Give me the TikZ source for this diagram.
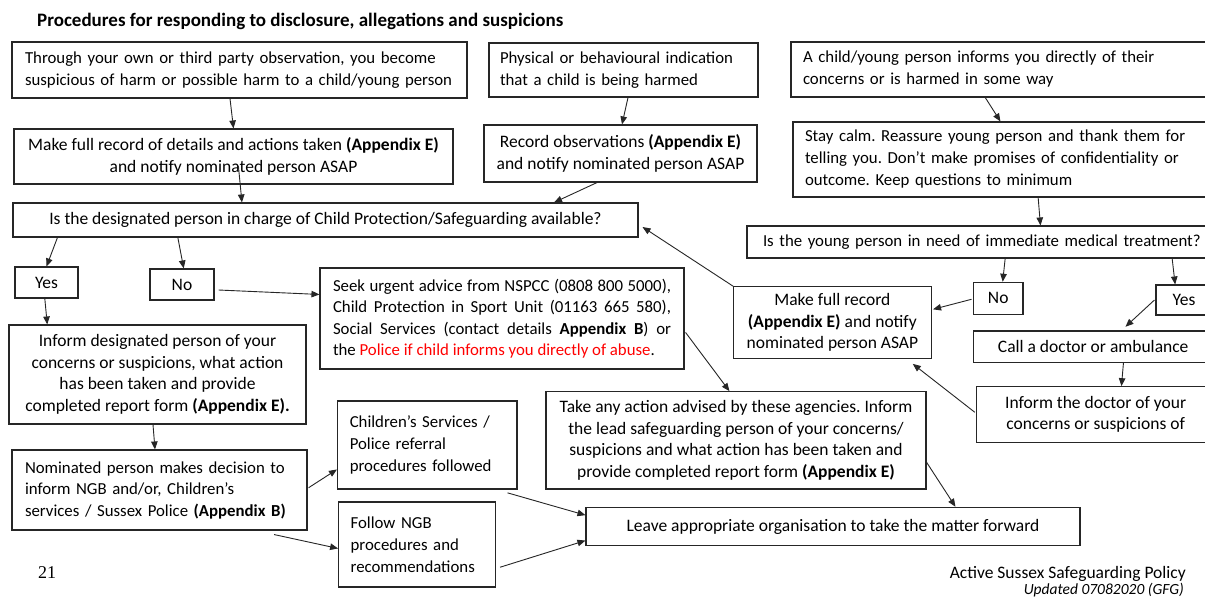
\documentclass[tikz,border=0pt]{standalone}
\usepackage{fontspec}
\setmainfont{Carlito}
\newfontfamily\serifnum{Liberation Serif}
\usetikzlibrary{arrows.meta,calc}
\frenchspacing
\tikzset{
  box/.style={draw=black!85, line width=1.1pt, inner sep=0pt, font=\fontsize{17.5}{22}\selectfont},
  lbox/.style={box, align=left, font=\fontsize{16.8}{22}\selectfont},
  cbox/.style={box, align=center},
  tight/.style={font=\fontsize{17.5}{21.5}\selectfont},
  ltight/.style={font=\fontsize{16.8}{21.5}\selectfont},
  arr/.style={draw=black!85, line width=0.9pt, -{Triangle[length=8pt,width=6.5pt]}},
  plain/.style={inner sep=0pt, font=\fontsize{17.5}{21}\selectfont},
}
\begin{document}
\begin{tikzpicture}[x=1pt,y=-1pt]
\useasboundingbox (0,0) rectangle (1205,598);
\fill[white] (0,0) rectangle (1205,598);
\clip (0,0) rectangle (1205,598);

\node[plain, anchor=west, font=\fontsize{19}{22}\selectfont\bfseries] (title) at (37,21) {Procedures for responding to disclosure, allegations and suspicions};

% row 1
\node[lbox, minimum width=455pt, minimum height=56pt, text width=429pt] (A1) at (239.5,70)
  {\mbox{Through your own or third party observation, you become}\\\mbox{suspicious of harm or possible harm to a child/young person}};
\node[lbox, minimum width=269pt, minimum height=54pt, text width=247pt] (A2) at (623.5,70)
  {\mbox{Physical or behavioural indication}\\\mbox{that a child is being harmed}};
\node[lbox, minimum width=500pt, minimum height=55pt, text width=476pt] (A3) at (1041,69.5)
  {\mbox{A child/young person informs you directly of their}\\\mbox{concerns or is harmed in some way}};

% row 2
\node[cbox, minimum width=439pt, minimum height=55pt] (B1) at (233.5,156.5)
  {Make full record of details and actions taken \textbf{(Appendix E)}\\and notify nominated person ASAP};
\node[cbox, minimum width=273pt, minimum height=57pt] (B2) at (620.5,153.5)
  {Record observations \textbf{(Appendix E)}\\and notify nominated person ASAP};
\node[lbox, minimum width=500pt, minimum height=75pt, text width=476pt] (B3) at (1043,159.5)
  {\mbox{Stay calm. Reassure young person and thank them for}\\\mbox{telling you. Don’t make promises of confidentiality or}\\\mbox{outcome. Keep questions to minimum}};

% questions
\node[cbox, minimum width=625pt, minimum height=34pt] (C1) at (325.5,220)
  {Is the designated person in charge of Child Protection/Safeguarding available?};
\node[lbox, minimum width=540pt, minimum height=32pt, text width=508pt] (C3) at (1017,242)
  {\mbox{Is the young person in need of immediate medical treatment?}};

% left branch
\node[cbox, minimum width=63pt, minimum height=31pt] (Yes1) at (46.5,282.5) {Yes};
\node[cbox, minimum width=64pt, minimum height=31pt] (No1) at (182,284.5) {No};
\node[box, ltight, align=left, minimum width=364pt, minimum height=101pt] (Seek) at (502,318.5)
  {\makebox[338pt][s]{Seek urgent advice from NSPCC (0808 800 5000),}\\
   \makebox[338pt][s]{Child Protection in Sport Unit (01163 665 580),}\\
   \makebox[338pt][s]{Social Services (contact details \textbf{Appendix B}) or}\\
   \makebox[338pt][l]{the \textcolor{red}{Police if child informs you directly of abuse}.}};
\node[cbox, tight, minimum width=297pt, minimum height=99pt] (InfD) at (157.5,374.5)
  {Inform designated person of your\\concerns or suspicions, what action\\has been taken and provide\\completed report form \textbf{(Appendix E).}};
\node[lbox, ltight, minimum width=295pt, minimum height=80pt, text width=269pt] (Nom) at (159.5,490)
  {\mbox{Nominated person makes decision to}\\\mbox{inform NGB and/or, Children’s}\\\mbox{services / Sussex Police \textbf{(Appendix B)}}};
\node[lbox, minimum width=179.5pt, minimum height=88pt, text width=155pt] (Chi) at (427.25,445)
  {\mbox{Children’s Services /}\\\mbox{Police referral}\\\mbox{procedures followed}};
\node[lbox, minimum width=157pt, minimum height=85pt, text width=133pt] (Fol) at (417.15,544.5)
  {\mbox{Follow NGB}\\\mbox{procedures and}\\\mbox{recommendations}};

% right branch
\node[cbox, tight, minimum width=197.6pt, minimum height=71.6pt] (MakeR) at (832.4,322.5)
  {Make full record\\\textbf{(Appendix E)} and notify\\nominated person ASAP};
\node[cbox, minimum width=49.6pt, minimum height=32pt] (No2) at (998.2,298.3) {No};
\node[cbox, minimum width=56pt, minimum height=30pt] (Yes2) at (1184,300) {Yes};
\node[cbox, minimum width=239.6pt, minimum height=31.3pt] (Call) at (1093.2,346.65) {Call a doctor or ambulance};
\node[cbox, tight, minimum width=238.6pt, minimum height=55.6pt] (InfDoc) at (1095.7,414.5)
  {Inform the doctor of your\\concerns or suspicions of};
\node[cbox, tight, minimum width=380pt, minimum height=97.3pt] (Take) at (736,440.35)
  {Take any action advised by these agencies. Inform\\the lead safeguarding person of your concerns/\\suspicions and what action has been taken and\\provide completed report form \textbf{(Appendix E)}};
\node[cbox, minimum width=494pt, minimum height=38.4pt] (Leave) at (833,526.5)
  {Leave appropriate organisation to take the matter forward};

% footer
\node[plain, anchor=base west, font=\serifnum\fontsize{18}{20}\selectfont] (pg) at (38,578) {21};
\node[plain, anchor=base east] (pol) at (1186,578.5) {Active Sussex Safeguarding Policy};
\node[plain, anchor=base east, font=\fontsize{15.5}{18}\selectfont\itshape] (upd) at (1184,594.5) {Updated 07082020 (GFG)};

% arrows
\draw[arr] ($(A1.south)+(-9.5,0)$) -- (B1.north);
\draw[arr] ($(B1.center)+(4.9,9.5)$) -- ($(C1.north west)+(229.5,0)$);
\draw[arr] ($(A2.south)+(4.5,0)$) -- ($(B2.north)+(1.5,0)$);
\draw[arr] ($(B2.south)+(-23.5,0)$) -- ($(C1.north east)+(-84.5,0)$);
\draw[arr] ($(A3.south west)+(194.8,0)$) -- ($(B3.north west)+(208,0)$);
\draw[arr] ($(B3.south west)+(245.7,0)$) -- ($(C3.north west)+(294,0)$);
\draw[arr] ($(C1.south west)+(45,0)$) -- (Yes1.north);
\draw[arr] ($(C1.south west)+(165.4,0)$) -- ($(No1.north)+(1.7,0)$);
\draw[arr] ($(Yes1.south)+(-1.7,0)$) -- ($(InfD.north west)+(38.8,0)$);
\draw[arr] ($(No1.east)+(4,5.5)$) -- ($(Seek.north west)+(0,27)$);
\draw[arr] ($(InfD.south)+(-4.5,0)$) -- ($(Nom.north)+(-4.5,0)$);
\draw[arr] ($(Nom.north east)+(1,38.3)$) -- ($(Chi.north west)+(0,69)$);
\draw[arr] ($(Nom.south east)+(-33.4,4)$) -- ($(Fol.north west)+(0,47)$);
\draw[arr] ($(Chi.south east)+(-10,3.3)$) -- ($(Leave.north west)+(0,8.4)$);
\draw[arr] ($(Fol.south east)+(3.8,-20.3)$) -- ($(Leave.south west)+(0,-5.7)$);
\draw[arr] ($(Seek.north east)+(1,65)$) -- ($(Take.north west)+(184,0)$);
\draw[arr] (MakeR.north west) -- ($(C1.east)+(4,7)$);
\draw[arr] ($(C3.south west)+(258.7,0)$) -- ($(No2.north)+(4.5,0)$);
\draw[arr] ($(C3.south west)+(425.7,0)$) -- ($(Yes2.north west)+(19.7,0)$);
\draw[arr] ($(No2.west)+(-1.4,1)$) -- ($(MakeR.east)+(1.3,-13.2)$);
\draw[arr] ($(Yes2.west)+(-1,0)$) -- ($(Call.north west)+(152.6,-3.7)$);
\draw[arr] ($(Call.south west)+(150.6,0)$) -- ($(InfDoc.north west)+(145.6,0)$);
\draw[arr] ($(InfDoc.west)+(-1,-2.2)$) -- ($(MakeR.south east)+(-19,5)$);
\draw[arr] ($(Take.south east)+(0,-27.3)$) -- ($(Leave.north west)+(370,0)$);
\end{tikzpicture}
\end{document}
